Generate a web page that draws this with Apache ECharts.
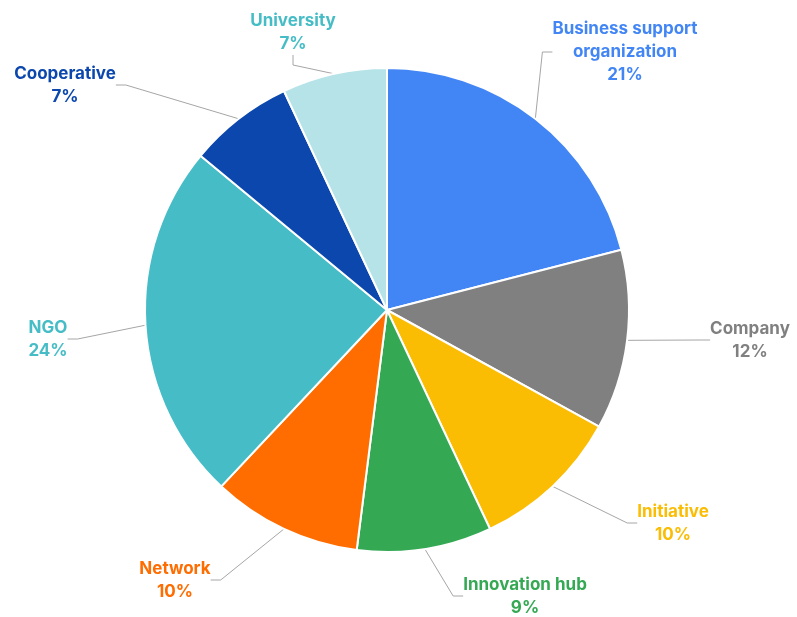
<!DOCTYPE html>
<html>
<head>
<meta charset="utf-8">
<script src="https://cdn.jsdelivr.net/npm/echarts@6/dist/echarts.min.js"></script>
<style>
  html, body { margin: 0; padding: 0; background: #ffffff; }
  #chart { width: 797px; height: 617px; }
</style>
</head>
<body>
<div id="chart"></div>
<script>
// Share of organisations by type (percent), clockwise from the top
const categories = [
  'Business support\norganization', 'Company', 'Initiative', 'Innovation hub',
  'Network', 'NGO', 'Cooperative', 'University'
];
const shares = [21, 12, 10, 9, 10, 24, 7, 7];

// Slice fills and label colours
const sliceColors = ['#4285F4', '#808080', '#FBBC04', '#34A853', '#FF6D01', '#46BDC6', '#0B47AD', '#B5E3E8'];
const labelColors = ['#4285F4', '#808080', '#FBBC04', '#34A853', '#FF6D01', '#46BDC6', '#0B47AD', '#46BDC6'];

// Where each label's text block is centred
const labelSpots = [
  [625, 52], [750, 340], [673, 523], [525, 596],
  [175, 580], [48, 339], [65, 85], [293, 32]
];

const chart = echarts.init(document.getElementById('chart'), null, { renderer: 'canvas' });

chart.setOption({
  animation: false,
  backgroundColor: '#ffffff',
  series: [{
    type: 'pie',
    center: [387, 310],
    radius: 242,
    startAngle: 90,
    clockwise: true,
    avoidLabelOverlap: false,
    itemStyle: { borderColor: '#ffffff', borderWidth: 2 },
    emphasis: { disabled: true },
    label: {
      show: true,
      position: 'outside',
      formatter: p => p.name + '\n' + p.value + '%',
      fontFamily: 'Inter, Lato, sans-serif',
      fontWeight: 'bold',
      fontSize: 17,
      lineHeight: 23,
      align: 'center'
    },
    labelLine: {
      show: true,
      length: 20,
      length2: 10,
      lineStyle: { color: '#A6A6A6', width: 1 }
    },
    labelLayout: function (params) {
      const s = labelSpots[params.dataIndex];
      return { x: s[0], y: s[1], align: 'center', verticalAlign: 'middle' };
    },
    data: categories.map((name, i) => ({
      name: name,
      value: shares[i],
      itemStyle: { color: sliceColors[i] },
      label: { color: labelColors[i] }
    }))
  }]
});
</script>
</body>
</html>
